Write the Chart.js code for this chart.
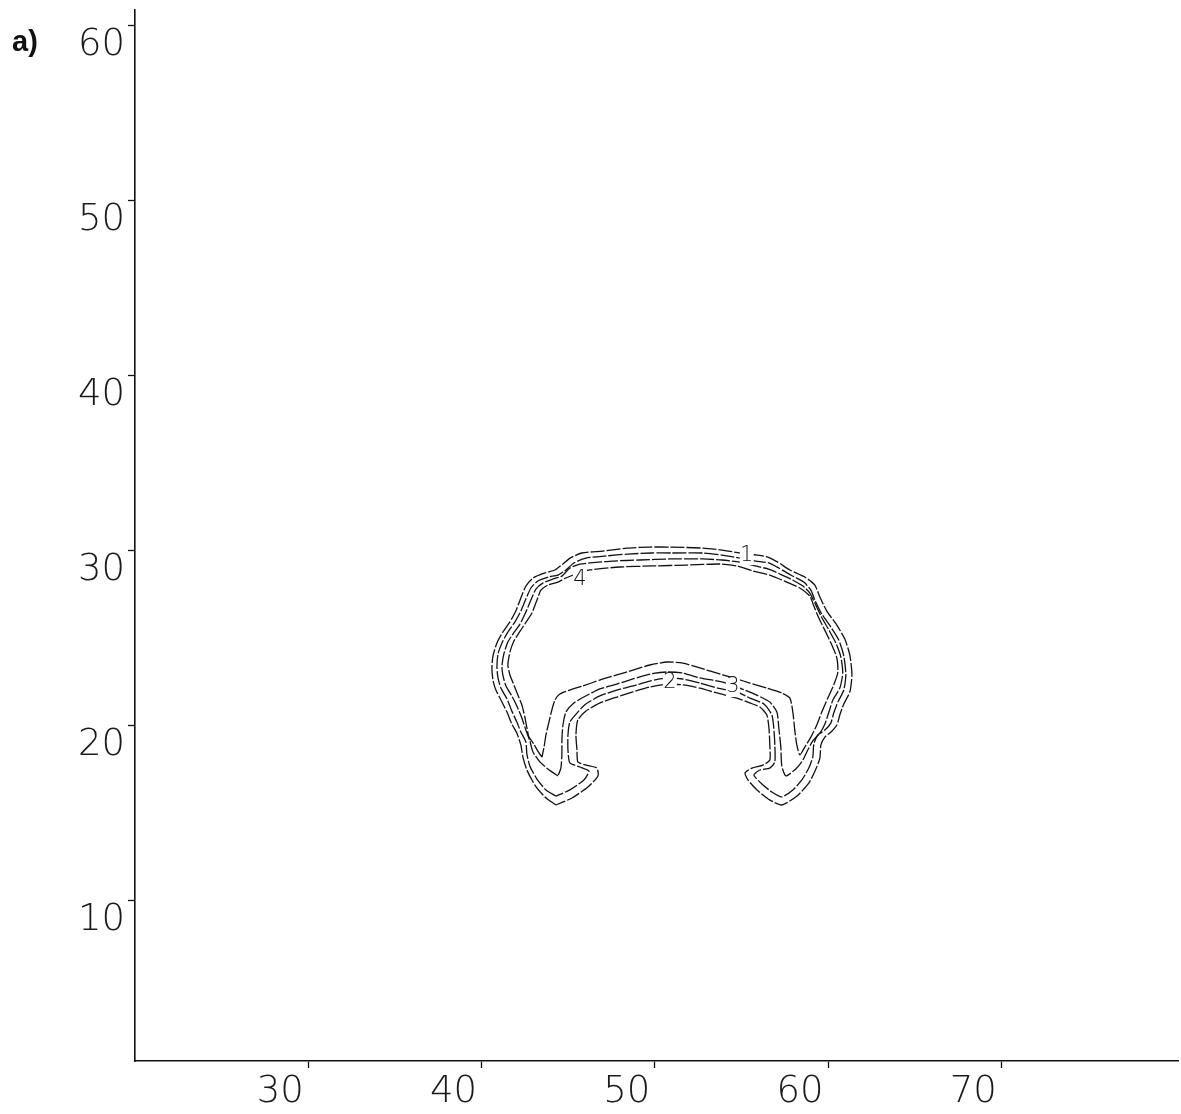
<!DOCTYPE html>
<html>
<head>
<meta charset="utf-8">
<script src="https://cdn.jsdelivr.net/npm/chart.js@4/dist/chart.umd.min.js"></script>
<style>
  body { margin: 0; background: #fff; }
  #wrap { position: relative; width: 1181px; height: 1114px; }
  #panel { position: absolute; left: 12px; top: 27px; font: bold 29px/29px "Liberation Sans", Arial, sans-serif; color: #111; }
</style>
</head>
<body>
<div id="wrap">
  <canvas id="contour" width="1181" height="1114"></canvas>
  <div id="panel">a)</div>
</div>
<script>
// axes
const xRange = [20, 80.2];
const yRange = [0.8, 60.86];
const xTicks = [30, 40, 50, 60, 70];
const yTicks = [10, 20, 30, 40, 50, 60];

// contour 1 (outermost)
const c1x = [44.29, 43.66, 43.08, 42.62, 42.39, 42.27, 42.04, 41.75, 41.47, 41.12, 40.83, 40.66, 40.60, 40.66, 40.89, 41.23, 41.64, 41.98, 42.27, 42.56, 42.97, 43.66, 44.24, 44.70, 45.11, 45.79, 47.00, 48.39, 49.72, 50.87, 52.78, 53.87, 54.91, 55.89, 56.53, 57.10, 57.80, 58.66, 59.24, 59.53, 59.93, 60.51, 60.97, 61.26, 61.38, 61.26, 60.91, 60.68, 60.51, 60.17, 59.82, 59.59, 59.53, 59.30, 58.90, 58.21, 57.34, 56.65, 55.90, 55.38, 55.21, 55.61, 56.24, 56.64, 56.64, 56.59, 56.47, 56.07, 55.49, 54.74, 53.59, 52.61, 51.63, 50.70, 49.72, 48.74, 47.82, 46.84, 46.03, 45.56, 45.45, 45.51, 45.56, 46.03, 46.66, 46.72, 46.14, 45.22];
const c1y = [15.43, 15.89, 16.57, 17.43, 18.17, 18.86, 19.54, 20.06, 20.74, 21.43, 22.00, 22.57, 23.26, 23.94, 24.69, 25.31, 25.89, 26.51, 27.26, 27.94, 28.40, 28.69, 28.86, 29.20, 29.54, 29.83, 29.94, 30.11, 30.17, 30.17, 30.11, 30.00, 29.83, 29.71, 29.60, 29.31, 28.86, 28.46, 28.00, 27.31, 26.51, 25.71, 24.91, 24.00, 22.86, 21.89, 21.20, 20.57, 20.00, 19.60, 19.31, 18.86, 18.11, 17.49, 16.69, 15.94, 15.43, 15.71, 16.29, 16.86, 17.26, 17.54, 17.71, 18.00, 18.86, 19.83, 20.57, 21.03, 21.26, 21.54, 21.83, 22.11, 22.29, 22.34, 22.17, 21.89, 21.60, 21.26, 20.80, 20.29, 19.43, 18.57, 17.89, 17.71, 17.54, 17.09, 16.46, 15.83];

// contour 2
const c2x = [44.29, 43.72, 43.20, 42.79, 42.62, 42.56, 42.27, 42.04, 41.75, 41.47, 41.12, 40.95, 40.89, 40.95, 41.18, 41.52, 41.93, 42.27, 42.56, 42.85, 43.25, 43.89, 44.41, 44.87, 45.33, 46.02, 47.18, 48.45, 49.83, 50.99, 52.78, 53.87, 54.91, 55.83, 56.58, 57.16, 57.85, 58.60, 59.01, 59.24, 59.64, 60.16, 60.62, 60.91, 61.03, 60.91, 60.57, 60.33, 60.16, 59.82, 59.41, 59.18, 59.12, 58.89, 58.49, 57.97, 57.33, 56.76, 56.18, 55.72, 56.07, 56.64, 56.93, 56.93, 56.87, 56.76, 56.30, 55.49, 54.74, 53.64, 52.60, 51.62, 50.70, 49.72, 48.74, 47.81, 46.83, 46.02, 45.56, 45.10, 44.99, 44.99, 45.10, 45.68, 46.20, 45.91, 45.10];
const c2y = [15.94, 16.29, 16.91, 17.66, 18.34, 19.03, 19.60, 20.17, 20.80, 21.49, 22.11, 22.69, 23.31, 24.06, 24.69, 25.31, 25.89, 26.51, 27.20, 27.83, 28.23, 28.46, 28.57, 28.86, 29.26, 29.54, 29.66, 29.77, 29.83, 29.83, 29.83, 29.71, 29.54, 29.37, 29.26, 28.97, 28.57, 28.17, 27.71, 27.14, 26.34, 25.60, 24.86, 23.94, 22.91, 22.00, 21.31, 20.69, 20.11, 19.71, 19.43, 18.91, 18.17, 17.54, 16.86, 16.29, 15.89, 16.17, 16.63, 17.14, 17.43, 17.54, 17.89, 18.86, 19.83, 20.57, 21.20, 21.54, 21.89, 22.11, 22.40, 22.63, 22.69, 22.51, 22.23, 22.00, 21.66, 21.20, 20.74, 20.17, 19.43, 18.57, 17.83, 17.60, 17.37, 16.86, 16.29];

// contour 3
const c3x = [44.41, 43.83, 43.37, 42.97, 42.79, 42.56, 42.33, 42.04, 41.75, 41.41, 41.23, 41.18, 41.29, 41.52, 41.81, 42.22, 42.56, 42.85, 43.14, 43.54, 44.12, 44.64, 45.10, 45.68, 46.26, 47.58, 49.14, 50.87, 52.78, 53.87, 54.91, 55.78, 56.58, 57.22, 57.85, 58.55, 58.95, 59.24, 59.59, 60.05, 60.45, 60.74, 60.85, 60.68, 60.28, 60.05, 59.82, 59.53, 59.12, 58.83, 58.55, 58.14, 57.57, 57.33, 57.28, 57.16, 57.05, 56.64, 55.89, 54.91, 53.87, 52.60, 51.62, 50.70, 49.72, 48.74, 47.81, 46.83, 46.02, 45.33, 44.87, 44.70, 44.64, 44.64, 44.58];
const c3y = [17.09, 17.49, 17.89, 18.46, 19.09, 19.71, 20.40, 21.09, 21.66, 22.23, 22.86, 23.37, 24.06, 24.74, 25.20, 25.77, 26.46, 27.14, 27.77, 28.11, 28.34, 28.51, 28.97, 29.20, 29.26, 29.37, 29.43, 29.49, 29.49, 29.43, 29.31, 29.09, 28.91, 28.63, 28.34, 27.94, 27.54, 26.97, 26.23, 25.43, 24.69, 23.89, 22.97, 22.11, 21.43, 20.74, 20.06, 19.54, 19.09, 18.57, 18.00, 17.49, 17.09, 17.66, 18.69, 19.83, 20.74, 21.31, 21.71, 22.11, 22.46, 22.69, 22.97, 23.03, 22.91, 22.63, 22.34, 22.06, 21.66, 21.26, 20.74, 20.00, 19.14, 18.29, 17.54];

// contour 4 (innermost)
const c4x = [43.49, 43.25, 43.02, 42.74, 42.62, 42.50, 42.33, 42.10, 41.87, 41.64, 41.52, 41.64, 41.87, 42.16, 42.50, 42.91, 43.20, 43.43, 43.83, 44.41, 44.87, 45.45, 46.26, 47.99, 49.89, 51.85, 53.76, 54.74, 55.66, 56.64, 57.62, 58.37, 58.95, 59.18, 59.47, 59.87, 60.22, 60.51, 60.57, 60.33, 59.99, 59.64, 59.35, 59.01, 58.66, 58.37, 58.20, 58.08, 57.97, 57.80, 57.33, 56.47, 55.49, 54.74, 53.93, 52.60, 51.62, 50.70, 49.72, 48.74, 47.81, 46.83, 45.85, 45.10, 44.52, 44.24, 44.06, 43.89, 43.72, 43.60];
const c4y = [18.17, 18.51, 18.91, 19.31, 19.83, 20.46, 21.14, 21.71, 22.29, 22.86, 23.43, 24.17, 24.80, 25.26, 25.77, 26.40, 27.14, 27.71, 28.00, 28.17, 28.40, 28.63, 28.86, 29.03, 29.09, 29.14, 29.20, 29.09, 28.80, 28.57, 28.17, 27.83, 27.37, 26.80, 26.11, 25.31, 24.57, 23.83, 23.03, 22.29, 21.54, 20.74, 20.00, 19.31, 18.74, 18.29, 18.86, 19.71, 20.74, 21.54, 21.83, 22.11, 22.40, 22.63, 22.86, 23.26, 23.54, 23.60, 23.43, 23.14, 22.86, 22.57, 22.23, 22.00, 21.77, 21.43, 20.86, 20.17, 19.43, 18.69];

// contour labels
const labelText = ['1', '4', '2', '3'];
const labelX = [55.31, 45.68, 50.87, 54.51];
const labelY = [29.71, 28.29, 22.40, 22.17];

function loop(xs, ys) {
  const pts = xs.map((x, i) => ({ x: x, y: ys[i] }));
  pts.push(pts[0]);
  return pts;
}

function contourSet(xs, ys) {
  return {
    data: loop(xs, ys),
    showLine: true,
    fill: false,
    pointRadius: 0,
    borderColor: '#111',
    borderWidth: 1.3,
    borderDash: [14, 2],
    tension: 0.2
  };
}

// numbers on the contour lines
const contourLabels = {
  id: 'contourLabels',
  afterDatasetsDraw(chart) {
    const ctx = chart.ctx;
    const sx = chart.scales.x, sy = chart.scales.y;
    ctx.save();
    ctx.font = '200 21px "DejaVu Sans", sans-serif';
    ctx.textAlign = 'center';
    ctx.textBaseline = 'middle';
    labelText.forEach((t, i) => {
      const px = sx.getPixelForValue(labelX[i]);
      const py = sy.getPixelForValue(labelY[i]);
      ctx.fillStyle = '#fff';
      ctx.fillRect(px - 7, py - 10, 14, 20);
      ctx.fillStyle = '#111';
      ctx.fillText(t, px, py);
    });
    ctx.restore();
  }
};

const tickFont = { family: '"DejaVu Sans", sans-serif', size: 37, weight: 200 };

var chart = new Chart(document.getElementById('contour'), {
  type: 'scatter',
  data: {
    datasets: [
      contourSet(c1x, c1y),
      contourSet(c2x, c2y),
      contourSet(c3x, c3y),
      contourSet(c4x, c4y)
    ]
  },
  options: {
    responsive: false,
    animation: false,
    layout: { padding: { top: 10, right: 3, left: 0, bottom: 0 }, autoPadding: false },
    plugins: { legend: { display: false }, tooltip: { enabled: false } },
    scales: {
      x: {
        type: 'linear',
        position: 'bottom',
        min: xRange[0],
        max: xRange[1],
        afterBuildTicks: (s) => { s.ticks = xTicks.map(v => ({ value: v })); },
        afterFit: (s) => { s.height = 53; s.paddingLeft = 0; s.paddingRight = 0; },
        grid: { drawOnChartArea: false, tickLength: 7, tickColor: '#111', tickWidth: 1.3 },
        border: { color: '#111', width: 1.6 },
        ticks: { labelOffset: -28, padding: 2, color: '#1a1a1a', font: tickFont, maxRotation: 0, autoSkip: false }
      },
      y: {
        type: 'linear',
        position: 'left',
        min: yRange[0],
        max: yRange[1],
        afterBuildTicks: (s) => { s.ticks = yTicks.map(v => ({ value: v })); },
        afterFit: (s) => { s.width = 135; s.paddingTop = 0; s.paddingBottom = 0; },
        grid: { drawOnChartArea: false, tickLength: 7, tickColor: '#111', tickWidth: 1.3 },
        border: { color: '#111', width: 1.6 },
        ticks: { labelOffset: 20, padding: 3, color: '#1a1a1a', font: tickFont, autoSkip: false }
      }
    }
  },
  plugins: [contourLabels]
});
</script>
</body>
</html>
